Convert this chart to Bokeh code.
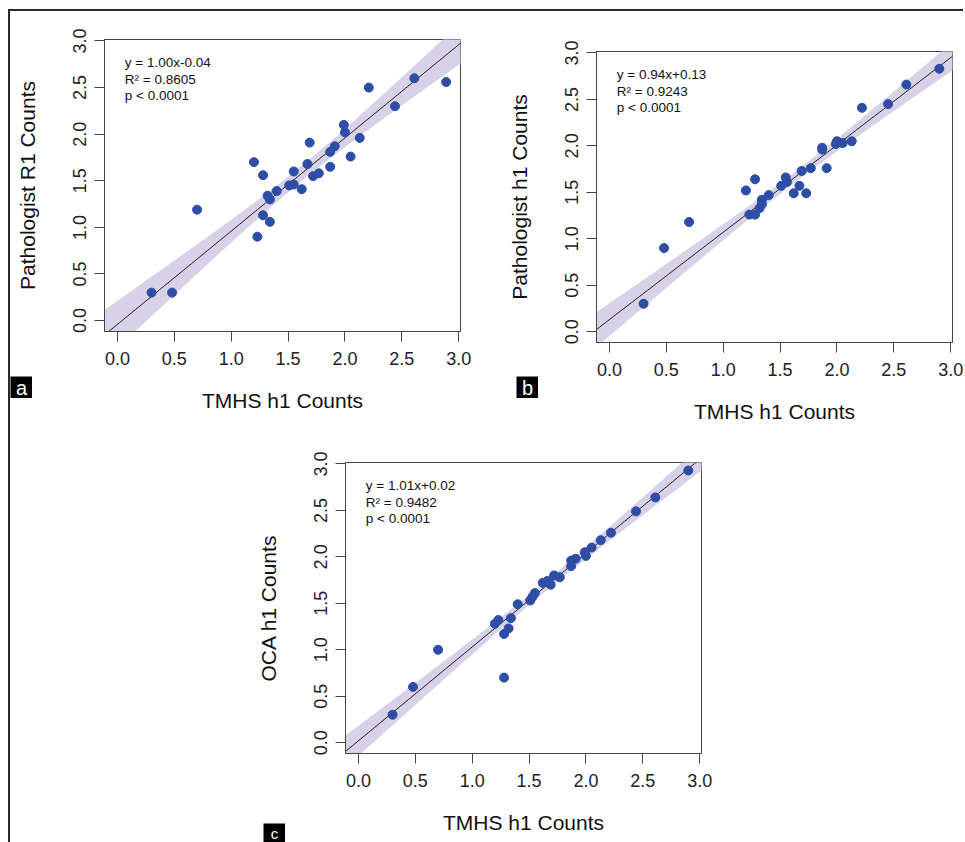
import numpy as np
from bokeh.plotting import figure
from bokeh.layouts import column, row
from bokeh.models import (Spacer, Label, FixedTicker, PrintfTickFormatter, Range1d,
                          ColumnDataSource)
from bokeh.embed import file_html
from bokeh.resources import INLINE

# ---------------- data ----------------
tmhs_a = [0.30, 0.48, 0.70, 1.20, 1.28, 1.23, 1.28, 1.34, 1.32, 1.34, 1.40, 1.51, 1.55, 1.55,
          1.62, 1.67, 1.69, 1.72, 1.77, 1.87, 1.87, 1.91, 1.99, 2.00, 2.05, 2.13, 2.21, 2.44, 2.61, 2.89]
path_r1 = [0.30, 0.30, 1.19, 1.70, 1.56, 0.90, 1.13, 1.06, 1.34, 1.30, 1.39, 1.45, 1.46, 1.60,
           1.41, 1.68, 1.91, 1.55, 1.58, 1.65, 1.81, 1.87, 2.10, 2.02, 1.76, 1.96, 2.50, 2.30, 2.60, 2.56]

tmhs_b = [0.30, 0.48, 0.70, 1.20, 1.28, 1.23, 1.28, 1.32, 1.34, 1.34, 1.40, 1.51, 1.56, 1.55,
          1.62, 1.67, 1.69, 1.73, 1.77, 1.87, 1.87, 1.91, 1.99, 2.00, 2.05, 2.13, 2.22, 2.45, 2.61, 2.90]
path_h1 = [0.30, 0.90, 1.18, 1.52, 1.64, 1.26, 1.26, 1.33, 1.37, 1.42, 1.47, 1.57, 1.61, 1.66,
           1.49, 1.57, 1.73, 1.49, 1.76, 1.96, 1.98, 1.76, 2.02, 2.05, 2.03, 2.05, 2.41, 2.45, 2.66, 2.83]

tmhs_c = [0.30, 0.48, 0.70, 1.28, 1.28, 1.32, 1.34, 1.20, 1.23, 1.40, 1.51, 1.53, 1.55, 1.62,
          1.66, 1.69, 1.72, 1.77, 1.87, 1.87, 1.91, 2.00, 1.99, 2.05, 2.13, 2.22, 2.44, 2.61, 2.90]
oca_h1 = [0.30, 0.60, 1.00, 0.70, 1.17, 1.23, 1.34, 1.28, 1.32, 1.49, 1.53, 1.57, 1.61, 1.72,
          1.74, 1.70, 1.80, 1.78, 1.90, 1.96, 1.98, 2.01, 2.05, 2.10, 2.18, 2.26, 2.49, 2.64, 2.93]

slopes = [1.00, 0.94, 1.01]
intercepts = [-0.04, 0.13, 0.02]
r2_values = ["0.8605", "0.9243", "0.9482"]
p_text = "p < 0.0001"
tick_values = [0.0, 0.5, 1.0, 1.5, 2.0, 2.5, 3.0]
x_title = "TMHS h1 Counts"
y_titles = ["Pathologist R1 Counts", "Pathologist h1 Counts", "OCA h1 Counts"]
panel_letters = ["a", "b", "c"]

FONT = "Liberation Sans"
POINT = "#2E4DA6"
BAND = "#D8D2E9"
AXC = "#444444"
XR = (-0.114, 3.016)
YR = (-0.117, 3.016)


def make_panel(xv, yv, m, b, r2, ytitle, width, height, bl, bt, br, bb):
    p = figure(width=width, height=height, output_backend="svg", toolbar_location=None,
               x_range=Range1d(*XR), y_range=Range1d(*YR),
               min_border_left=bl, min_border_top=bt, min_border_right=br, min_border_bottom=bb)
    p.grid.visible = False
    p.outline_line_color = AXC
    p.outline_line_width = 1
    p.background_fill_color = "white"
    p.border_fill_color = "white"

    xs = np.array(xv, dtype=float)
    ys = np.array(yv, dtype=float)
    n = len(xs)
    resid = ys - (m * xs + b)
    s = np.sqrt(np.sum(resid ** 2) / (n - 2))
    xbar = xs.mean()
    sxx = np.sum((xs - xbar) ** 2)
    grid = np.linspace(-0.3, 3.2, 200)
    fit = m * grid + b
    hw = 2.048 * s * np.sqrt(1.0 / n + (grid - xbar) ** 2 / sxx)
    band = ColumnDataSource(dict(x=grid, lo=fit - hw, hi=fit + hw, fit=fit))
    p.varea(x="x", y1="lo", y2="hi", source=band, fill_color=BAND, fill_alpha=1.0)
    p.line(x="x", y="fit", source=band, line_color="#111111", line_width=1)
    p.scatter(x=xv, y=yv, size=9, fill_color=POINT, line_color=POINT)

    for ax in (p.xaxis[0], p.yaxis[0]):
        ax.ticker = FixedTicker(ticks=tick_values)
        ax.formatter = PrintfTickFormatter(format="%.1f")
        ax.minor_tick_line_color = None
        ax.major_tick_in = 0
        ax.major_tick_out = 10
        ax.major_tick_line_color = AXC
        ax.axis_line_color = AXC
        ax.major_label_text_font = FONT
        ax.major_label_text_font_size = "18px"
        ax.major_label_text_color = "#222222"
        ax.axis_label_text_font = FONT
        ax.axis_label_text_font_size = "21px"
        ax.axis_label_text_font_style = "normal"
        ax.axis_label_text_color = "#111111"
    p.xaxis[0].axis_label = x_title
    p.xaxis[0].major_label_standoff = 10
    p.xaxis[0].axis_label_standoff = 21
    p.yaxis[0].axis_label = ytitle
    p.yaxis[0].major_label_orientation = "vertical"
    p.yaxis[0].major_label_standoff = 8
    p.yaxis[0].axis_label_standoff = 32

    eq = "y = %.2fx%+.2f" % (m, b)
    for txt, yy in ((eq, 2.77), ("R\u00b2 = " + r2, 2.59), (p_text, 2.41)):
        p.add_layout(Label(x=0.065, y=yy, text=txt, text_font=FONT, text_font_size="13.5px",
                           text_color="#111111", text_baseline="middle", text_align="left"))
    return p


def letter_box(letter, left, top, h=22, fs="20px"):
    f = figure(width=22, height=h, output_backend="svg", toolbar_location=None,
               x_range=Range1d(0, 1), y_range=Range1d(0, 1), x_axis_type=None, y_axis_type=None,
               min_border_left=0, min_border_right=0, min_border_top=0, min_border_bottom=0)
    f.grid.visible = False
    f.outline_line_color = None
    f.background_fill_color = "black"
    f.border_fill_color = "black"
    f.add_layout(Label(x=0.5, y=0.47, text=letter, text_font=FONT, text_font_size=fs,
                       text_color="white", text_align="center", text_baseline="middle"))
    f.styles = {"position": "absolute", "left": "%dpx" % left, "top": "%dpx" % top,
                "z-index": "5"}
    return f


# content origin: (10, 11) after margin + 2px border
pa = make_panel(tmhs_a, path_r1, slopes[0], intercepts[0], r2_values[0], y_titles[0],
                478, 420, 94, 28, 28, 100)
pb = make_panel(tmhs_b, path_h1, slopes[1], intercepts[1], r2_values[1], y_titles[1],
                475, 408, 108, 28, 11, 89)
pc = make_panel(tmhs_c, oca_h1, slopes[2], intercepts[2], r2_values[2], y_titles[2],
                486, 411, 100, 31, 30, 89)

boxes = [letter_box(panel_letters[0], 0, 365),
         letter_box(panel_letters[1], 506, 365),
         letter_box(panel_letters[2], 253, 812, h=19, fs="15px")]

layout = column(row(pa, column(Spacer(width=475, height=12), pb)),
                row(Spacer(width=235, height=411), pc),
                *boxes,
                margin=(9, 0, 0, 8),
                styles={"border-top": "2px solid #2a2a2a", "border-left": "2px solid #2a2a2a",
                        "position": "relative"})

open("out.html", "w").write(file_html(layout, INLINE))
